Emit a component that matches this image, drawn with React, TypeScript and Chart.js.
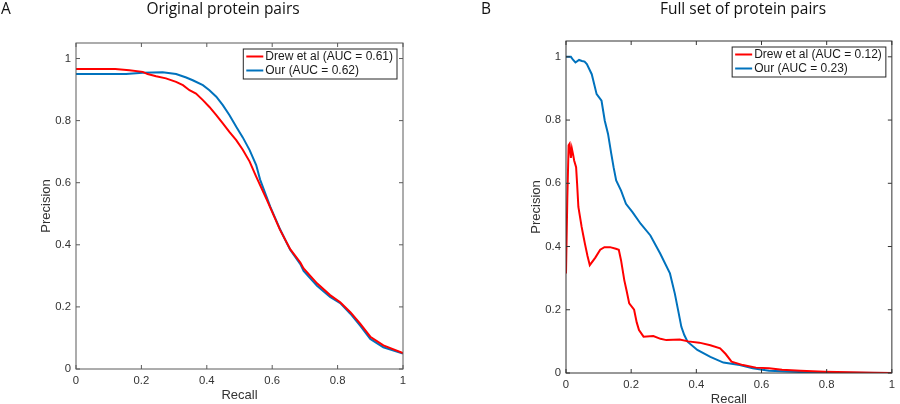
import React, { useEffect, useRef } from "react";
import { Chart, registerables } from "chart.js";
Chart.register(...registerables);

// ---- data ----
const X_TICKS = [0, 0.2, 0.4, 0.6, 0.8, 1];
const X_TICK_LABELS = ["0", "0.2", "0.4", "0.6", "0.8", "1"];
const Y_TICKS = [0, 0.2, 0.4, 0.6, 0.8, 1];
const Y_TICK_LABELS = ["0", "0.2", "0.4", "0.6", "0.8", "1"];

const A_TITLE = "Original protein pairs";
const B_TITLE = "Full set of protein pairs";
const X_LABEL = "Recall";
const Y_LABEL = "Precision";

const A_DREW_LABEL = "Drew et al (AUC = 0.61)";
const A_OUR_LABEL = "Our (AUC = 0.62)";
const B_DREW_LABEL = "Drew et al (AUC = 0.12)";
const B_OUR_LABEL = "Our (AUC = 0.23)";

const A_DREW_R = [0, 0.12, 0.163, 0.204, 0.219, 0.245, 0.275, 0.306, 0.327, 0.347, 0.367, 0.388, 0.408, 0.429, 0.449, 0.469, 0.49, 0.51, 0.531, 0.55, 0.584, 0.624, 0.655, 0.686, 0.696, 0.737, 0.777, 0.808, 0.839, 0.869, 0.9, 0.94, 1.0];
const A_DREW_P = [0.966, 0.966, 0.962, 0.957, 0.95, 0.943, 0.936, 0.925, 0.914, 0.898, 0.887, 0.866, 0.844, 0.818, 0.791, 0.764, 0.737, 0.706, 0.668, 0.622, 0.544, 0.448, 0.386, 0.343, 0.324, 0.276, 0.238, 0.215, 0.183, 0.146, 0.104, 0.076, 0.051];

const A_OUR_R = [0, 0.153, 0.204, 0.265, 0.306, 0.337, 0.357, 0.388, 0.408, 0.429, 0.449, 0.469, 0.49, 0.51, 0.531, 0.551, 0.563, 0.594, 0.624, 0.645, 0.655, 0.686, 0.696, 0.737, 0.777, 0.808, 0.839, 0.869, 0.9, 0.94, 1.0];
const A_OUR_P = [0.95, 0.95, 0.954, 0.956, 0.95, 0.939, 0.93, 0.914, 0.898, 0.877, 0.85, 0.818, 0.78, 0.746, 0.705, 0.657, 0.61, 0.523, 0.45, 0.405, 0.384, 0.338, 0.316, 0.268, 0.232, 0.212, 0.178, 0.14, 0.097, 0.07, 0.05];

const B_DREW_R = [0, 0.004, 0.008, 0.011, 0.015, 0.018, 0.022, 0.025, 0.031, 0.034, 0.038, 0.048, 0.054, 0.058, 0.066, 0.073, 0.09, 0.105, 0.118, 0.135, 0.153, 0.162, 0.169, 0.179, 0.186, 0.194, 0.209, 0.217, 0.224, 0.238, 0.268, 0.29, 0.308, 0.349, 0.375, 0.409, 0.443, 0.473, 0.49, 0.508, 0.543, 0.583, 0.623, 0.663, 0.72, 0.793, 0.87, 0.943, 1.0];
const B_DREW_P = [0.315, 0.55, 0.72, 0.725, 0.68, 0.71, 0.69, 0.672, 0.651, 0.6, 0.525, 0.462, 0.43, 0.409, 0.37, 0.341, 0.365, 0.39, 0.398, 0.398, 0.393, 0.39, 0.356, 0.293, 0.26, 0.22, 0.2, 0.16, 0.136, 0.115, 0.117, 0.108, 0.104, 0.106, 0.1, 0.096, 0.088, 0.078, 0.06, 0.036, 0.025, 0.017, 0.015, 0.01, 0.007, 0.004, 0.002, 0.001, 0];

const B_OUR_R = [0, 0.015, 0.022, 0.029, 0.04, 0.049, 0.057, 0.064, 0.079, 0.094, 0.109, 0.119, 0.129, 0.139, 0.146, 0.154, 0.169, 0.184, 0.204, 0.229, 0.259, 0.289, 0.319, 0.334, 0.344, 0.354, 0.363, 0.373, 0.403, 0.443, 0.483, 0.533, 0.573, 0.623, 0.743, 0.85, 1.0];
const B_OUR_P = [1.0, 1.0, 0.99, 0.982, 0.99, 0.987, 0.985, 0.977, 0.945, 0.882, 0.861, 0.798, 0.756, 0.693, 0.651, 0.609, 0.577, 0.535, 0.509, 0.472, 0.435, 0.378, 0.315, 0.251, 0.199, 0.146, 0.12, 0.099, 0.073, 0.051, 0.033, 0.025, 0.015, 0.007, 0.002, 0.001, 0];

const RED = "#ff0000";
const BLUE = "#0072bd";

const W = 450;
const H = 404;
const SANS = "'Liberation Sans', Arial, Helvetica, sans-serif";
const TITLE_FONT = "'Open Sans', sans-serif";

type Series = { label: string; color: string; r: number[]; p: number[] };
type Spec = {
  canvasLeft: number;
  title: string;
  titleX: number;
  letter: string;
  letterX: number;
  area: { left: number; top: number; right: number; bottom: number };
  axisColor: string;
  series: Series[];
};

const SPECS: Spec[] = [
  {
    canvasLeft: 0,
    title: A_TITLE,
    titleX: 223,
    letter: "A",
    letterX: 1,
    area: { left: 76, top: 43, right: 403, bottom: 369 },
    axisColor: "#5a5a5a",
    series: [
      { label: A_DREW_LABEL, color: RED, r: A_DREW_R, p: A_DREW_P },
      { label: A_OUR_LABEL, color: BLUE, r: A_OUR_R, p: A_OUR_P },
    ],
  },
  {
    canvasLeft: 450,
    title: B_TITLE,
    titleX: 293,
    letter: "B",
    letterX: 31,
    area: { left: 116, top: 41, right: 449, bottom: 373 },
    axisColor: "#333333",
    series: [
      { label: B_DREW_LABEL, color: RED, r: B_DREW_R, p: B_DREW_P },
      { label: B_OUR_LABEL, color: BLUE, r: B_OUR_R, p: B_OUR_P },
    ],
  },
];

function buildChart(canvas: HTMLCanvasElement, spec: Spec) {
  const framePlugin = {
    id: "matlabFrame",
    afterDatasetsDraw(chart: any) {
      const ctx: CanvasRenderingContext2D = chart.ctx;
      const a = chart.chartArea;
      const xs = chart.scales.x;
      const ys = chart.scales.y;
      ctx.save();
      // frame
      ctx.strokeStyle = spec.axisColor;
      ctx.lineWidth = 1;
      ctx.strokeRect(a.left, a.top, a.right - a.left, a.bottom - a.top);
      // inward ticks
      ctx.beginPath();
      for (const v of X_TICKS) {
        const px = xs.getPixelForValue(v);
        ctx.moveTo(px, a.bottom);
        ctx.lineTo(px, a.bottom - 4);
        ctx.moveTo(px, a.top);
        ctx.lineTo(px, a.top + 4);
      }
      for (const v of Y_TICKS) {
        const py = ys.getPixelForValue(v);
        ctx.moveTo(a.left, py);
        ctx.lineTo(a.left + 4, py);
        ctx.moveTo(a.right, py);
        ctx.lineTo(a.right - 4, py);
      }
      ctx.stroke();

      // legend
      ctx.font = `12px ${SANS}`;
      const textW = Math.max(...spec.series.map((s) => ctx.measureText(s.label).width));
      const boxW = 3 + 17 + 2 + textW + 4;
      const boxH = 30;
      const bx = a.right - 6 - boxW;
      const by = a.top + 6;
      ctx.fillStyle = "#ffffff";
      ctx.fillRect(bx, by, boxW, boxH);
      ctx.strokeStyle = "#262626";
      ctx.lineWidth = 1;
      ctx.strokeRect(bx, by, boxW, boxH);
      spec.series.forEach((s, i) => {
        const cy = by + 7.5 + i * 14;
        ctx.strokeStyle = s.color;
        ctx.lineWidth = 2;
        ctx.beginPath();
        ctx.moveTo(bx + 3, cy);
        ctx.lineTo(bx + 20, cy);
        ctx.stroke();
        ctx.fillStyle = "#1a1a1a";
        ctx.textAlign = "left";
        ctx.textBaseline = "middle";
        ctx.fillText(s.label, bx + 22, cy + 0.5);
      });

      // axis titles
      ctx.fillStyle = "#333333";
      ctx.font = `13px ${SANS}`;
      ctx.textAlign = "center";
      ctx.textBaseline = "middle";
      ctx.fillText(X_LABEL, (a.left + a.right) / 2, a.bottom + 26);
      ctx.save();
      ctx.translate(a.left - 30, (a.top + a.bottom) / 2);
      ctx.rotate(-Math.PI / 2);
      ctx.fillText(Y_LABEL, 0, 0);
      ctx.restore();

      // panel title and letter
      ctx.fillStyle = "#111111";
      ctx.font = `15.5px ${TITLE_FONT}`;
      ctx.textAlign = "center";
      ctx.textBaseline = "alphabetic";
      ctx.fillText(spec.title, spec.titleX, 14);
      ctx.textAlign = "left";
      ctx.fillText(spec.letter, spec.letterX, 14);
      ctx.restore();
    },
  };

  return new Chart(canvas, {
    type: "line",
    data: {
      datasets: spec.series.map((s) => ({
        label: s.label,
        data: s.r.map((r, i) => ({ x: r, y: s.p[i] })),
        borderColor: s.color,
        backgroundColor: s.color,
        borderWidth: 2,
        pointRadius: 0,
        tension: 0,
        fill: false,
      })),
    },
    options: {
      responsive: false,
      animation: false,
      devicePixelRatio: 1,
      parsing: true,
      layout: {
        padding: {
          left: 0,
          top: spec.area.top,
          right: W - spec.area.right,
          bottom: 0,
        },
      },
      plugins: {
        legend: { display: false },
        title: { display: false },
        tooltip: { enabled: false },
      },
      scales: {
        x: {
          type: "linear",
          min: 0,
          max: 1,
          grid: { display: false, drawTicks: false },
          border: { display: false },
          afterFit: (s: any) => {
            s.height = H - spec.area.bottom;
          },
          afterBuildTicks: (s: any) => {
            s.ticks = X_TICKS.map((v) => ({ value: v }));
          },
          ticks: {
            padding: 5,
            color: "#333333",
            font: { family: SANS, size: 11.3 },
            maxRotation: 0,
            autoSkip: false,
            callback: (v: any) => X_TICK_LABELS[X_TICKS.indexOf(Math.round(Number(v) * 10) / 10)] ?? "",
          },
        },
        y: {
          type: "linear",
          min: 0,
          max: 1.05,
          grid: { display: false, drawTicks: false },
          border: { display: false },
          afterFit: (s: any) => {
            s.width = spec.area.left;
          },
          afterBuildTicks: (s: any) => {
            s.ticks = Y_TICKS.map((v) => ({ value: v }));
          },
          ticks: {
            padding: 5,
            color: "#333333",
            font: { family: SANS, size: 11.3 },
            autoSkip: false,
            callback: (v: any) => Y_TICK_LABELS[Y_TICKS.indexOf(Math.round(Number(v) * 10) / 10)] ?? "",
          },
        },
      },
    },
    plugins: [framePlugin],
  } as any);
}

function Panel({ spec }: { spec: Spec }) {
  const ref = useRef<HTMLCanvasElement | null>(null);
  useEffect(() => {
    if (!ref.current) return;
    const chart = buildChart(ref.current, spec);
    return () => chart.destroy();
  }, [spec]);
  return (
    <canvas
      ref={ref}
      width={W}
      height={H}
      style={{ position: "absolute", left: spec.canvasLeft, top: 0, width: W, height: H }}
    />
  );
}

export default function App() {
  return (
    <div style={{ position: "fixed", left: 0, top: 0, width: 900, height: 404, background: "#ffffff" }}>
      {SPECS.map((s, i) => (
        <Panel key={i} spec={s} />
      ))}
    </div>
  );
}
